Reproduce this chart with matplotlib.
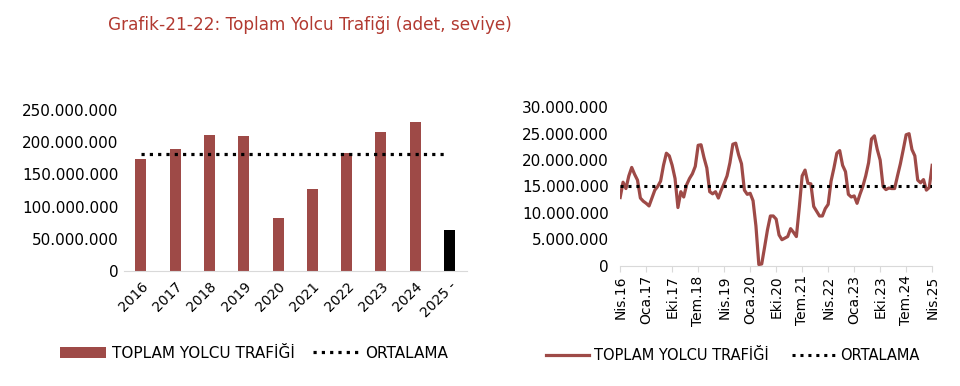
import matplotlib.pyplot as plt
from matplotlib.ticker import FuncFormatter

plt.rcParams["font.family"] = ["DejaVu Sans"]

# Data ==================================================

YEARS = ["2016", "2017", "2018", "2019", "2020", "2021", "2022", "2023", "2024", "2025 -"]
ANNUAL = [173.9, 188.9, 211.2, 209.6, 81.8, 127.8, 182.7, 215.8, 231.4, 63.7]  # million
ANNUAL_AVG = 181.2  # million

# monthly, Apr 2016 .. Apr 2025 (million)
MONTHLY = [
    12.9, 15.8, 14.6, 17.0, 18.6, 17.3, 16.2, 12.8, 12.2,
    11.8, 11.3, 12.8, 14.3, 15.0, 16.0, 19.0, 21.3, 20.8, 19.0, 16.5, 11.0,
    14.0, 13.0, 15.3, 16.5, 17.4, 18.8, 22.8, 22.9, 20.5, 18.5, 14.0, 13.6,
    14.0, 12.8, 14.3, 15.6, 17.0, 19.5, 23.0, 23.2, 21.0, 19.3, 14.3, 13.5,
    13.7, 12.3, 7.5, 0.2, 0.3, 3.5, 6.8, 9.4, 9.4, 8.8, 5.8, 4.9,
    5.2, 5.5, 7.0, 6.3, 5.5, 11.0, 17.0, 18.1, 15.6, 15.5, 11.2, 10.3,
    9.4, 9.4, 10.8, 11.6, 16.0, 18.5, 21.3, 21.8, 19.0, 17.8, 13.5, 13.0,
    13.2, 11.8, 13.5, 15.0, 17.0, 19.5, 24.0, 24.6, 22.0, 20.0, 15.0, 14.4,
    14.7, 14.6, 14.6, 17.0, 19.3, 22.0, 24.8, 25.0, 22.0, 20.8, 16.2, 15.7,
    16.3, 14.3, 14.8, 19.0,
]
MONTHLY_AVG = 15.0  # million
MONTH_TICKS = ["Nis.16", "Oca.17", "Eki.17", "Tem.18", "Nis.19", "Oca.20", "Eki.20",
               "Tem.21", "Nis.22", "Oca.23", "Eki.23", "Tem.24", "Nis.25"]

TITLE = "Grafik-21-22: Toplam Yolcu Trafiği (adet, seviye)"
BAR_COLOR = "#9e4a47"
DOTS = (0, (1, 1.6))

# =======================================================

dot_fmt = FuncFormatter(lambda v, p: f"{v:,.0f}".replace(",", "."))

fig = plt.figure(figsize=(9.6, 3.86), dpi=100)
fig.text(0.323, 0.935, TITLE, color="#b23a31", fontsize=12.2, ha="center", va="center")

# Annual bars
ax1 = fig.add_axes([0.129, 0.298, 0.357, 0.417])
x = list(range(len(YEARS)))
colors = [BAR_COLOR] * (len(YEARS) - 1) + ["black"]
vals = [v * 1e6 for v in ANNUAL]
bars = ax1.bar(x, vals, width=0.32, color=colors)
avg_line, = ax1.plot([x[0], x[-1] - 0.1], [ANNUAL_AVG * 1e6] * 2, ls=DOTS,
                     lw=2.3, color="black")
ax1.set_ylim(0, 250e6)
ax1.set_xlim(-0.5, len(YEARS) - 0.5)
ax1.set_yticks(range(0, 250000001, 50000000))
ax1.yaxis.set_major_formatter(dot_fmt)
ax1.set_xticks(x)
ax1.set_xticklabels(YEARS, rotation=45, ha="right", rotation_mode="anchor")
for s in ["top", "right", "left"]:
    ax1.spines[s].set_visible(False)
ax1.spines["bottom"].set_color("#d9d9d9")
ax1.tick_params(axis="y", length=0, labelsize=11, pad=4)
ax1.tick_params(axis="x", length=0, labelsize=10, pad=6)
ax1.legend([bars[0], avg_line], ["TOPLAM YOLCU TRAFİĞİ", "ORTALAMA"],
           loc="center", bbox_to_anchor=(0.38, -0.51), ncol=2, frameon=False,
           fontsize=11, handlelength=3.0, columnspacing=1.2, handletextpad=0.4)

# Monthly line
ax2 = fig.add_axes([0.646, 0.312, 0.325, 0.410])
mx = list(range(len(MONTHLY)))
ax2.plot(mx, [v * 1e6 for v in MONTHLY], color=BAR_COLOR, lw=2.3,
         label="TOPLAM YOLCU TRAFİĞİ")
ax2.plot([mx[0], mx[-1]], [MONTHLY_AVG * 1e6] * 2, ls=DOTS, lw=2.2,
         color="black", label="ORTALAMA")
ax2.set_ylim(0, 30e6)
ax2.set_xlim(mx[0], mx[-1])
ax2.set_yticks(range(0, 30000001, 5000000))
ax2.yaxis.set_major_formatter(dot_fmt)
ax2.set_xticks(mx[::9])
ax2.set_xticklabels(MONTH_TICKS, rotation=90)
for s in ["top", "right", "left"]:
    ax2.spines[s].set_visible(False)
ax2.spines["bottom"].set_color("#d9d9d9")
ax2.tick_params(axis="y", length=0, labelsize=11, pad=8)
ax2.tick_params(axis="x", length=4, color="#d9d9d9", labelsize=10, pad=3)
ax2.legend(loc="center", bbox_to_anchor=(0.36, -0.57), ncol=2, frameon=False,
           fontsize=10.5, handlelength=3.0, columnspacing=1.6, handletextpad=0.3)

fig.savefig("out.png", dpi=100)
